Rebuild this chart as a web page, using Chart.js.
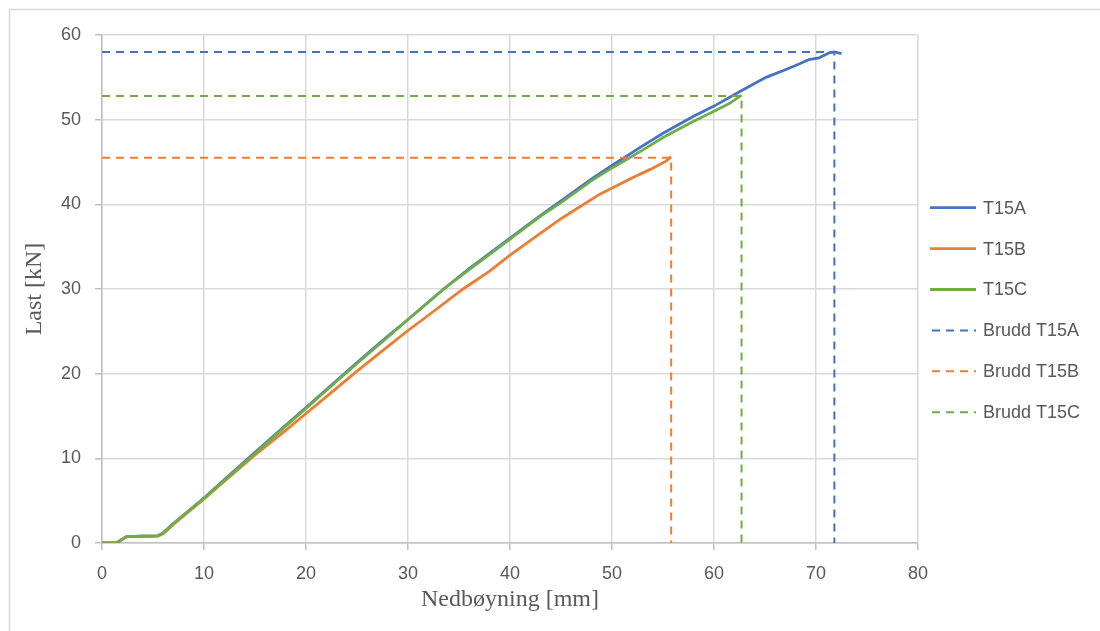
<!DOCTYPE html>
<html>
<head>
<meta charset="utf-8">
<script src="https://cdn.jsdelivr.net/npm/chart.js@4.4.1/dist/chart.umd.min.js"></script>
<style>
  html, body { margin: 0; padding: 0; background: #fff; }
</style>
</head>
<body>
<canvas id="grafica" width="1100" height="631"></canvas>
<script>
// 🔹 DATOS
const nedboyningA = [0, 1.4, 2.4, 4.0, 5.5, 6.0, 7.0, 8.0, 10, 12, 15, 18, 20, 23, 25, 28, 30, 33.5, 36, 40, 43, 45, 48, 50, 53, 55, 58, 60, 62.5, 65.1, 67, 68.4, 69.3, 70.3, 71.3, 71.8, 72.5];
const lastA = [0, 0, 0.75, 0.8, 0.85, 1.2, 2.3, 3.3, 5.3, 7.5, 10.7, 13.9, 16.0, 19.2, 21.3, 24.4, 26.4, 30.0, 32.4, 36.0, 38.7, 40.4, 43.0, 44.6, 46.9, 48.4, 50.4, 51.6, 53.3, 55.0, 55.9, 56.6, 57.1, 57.3, 57.9, 58.0, 57.8];

const nedboyningB = [0, 1.4, 2.4, 4.0, 5.5, 6.0, 7.0, 8.0, 10, 12, 15, 18, 20, 23, 25, 28, 30, 32, 35.4, 38, 40, 43, 45, 48.8, 52.1, 53.7, 55.3, 55.8];
const lastB = [0, 0, 0.75, 0.8, 0.85, 1.1, 2.2, 3.2, 5.2, 7.3, 10.4, 13.3, 15.3, 18.3, 20.3, 23.2, 25.1, 26.9, 30.0, 32.1, 34.0, 36.6, 38.3, 41.2, 43.2, 44.1, 45.1, 45.6];

const nedboyningC = [0, 1.4, 2.4, 4.0, 5.5, 6.0, 7.0, 8.0, 10, 12, 15, 18, 20, 23, 25, 28, 30, 33.5, 36, 40, 43, 45, 48, 50, 53, 55, 58, 60, 61.5, 62.7];
const lastC = [0, 0, 0.75, 0.8, 0.85, 1.2, 2.3, 3.3, 5.3, 7.4, 10.6, 13.8, 15.9, 19.1, 21.2, 24.3, 26.4, 30.0, 32.3, 35.9, 38.6, 40.2, 42.8, 44.3, 46.4, 47.9, 49.8, 51.0, 51.9, 52.9];

// punto de brudd: A, B, C
const bruddNedboyning = [71.8, 55.8, 62.7];
const bruddLast = [58.0, 45.5, 52.8];

const nombres = ['T15A', 'T15B', 'T15C'];
const colores = ['#4472C4', '#ED7D31', '#70AD47'];

const ejeX = { min: 0, max: 80, paso: 10 };
const ejeY = { min: 0, max: 60, paso: 10 };

function puntos(xs, ys){
  return xs.map((x, i) => ({ x: x, y: ys[i] }));
}

function lineaBrudd(i){
  return [
    { x: 0, y: bruddLast[i] },
    { x: bruddNedboyning[i], y: bruddLast[i] },
    { x: bruddNedboyning[i], y: 0 }
  ];
}

const curvas = [[nedboyningA, lastA], [nedboyningB, lastB], [nedboyningC, lastC]];

const datasets = [];
curvas.forEach((c, i) => {
  datasets.push({
    label: nombres[i],
    data: puntos(c[0], c[1]),
    borderColor: colores[i],
    borderWidth: 2.8,
    borderDash: [],
    pointRadius: 0,
    tension: 0
  });
});
nombres.forEach((n, i) => {
  datasets.push({
    label: 'Brudd ' + n,
    data: lineaBrudd(i),
    borderColor: colores[i],
    borderWidth: 2,
    borderDash: [8, 6],
    pointRadius: 0,
    tension: 0
  });
});
// como en Excel: la última serie queda encima
datasets.forEach((ds, i) => { ds.order = datasets.length - 1 - i; });

const gris = '#595959';
const fuenteTicks = { family: '"Liberation Sans", Arial, sans-serif', size: 18 };
const fuenteTitulo = { family: '"Liberation Serif", "Times New Roman", serif', size: 24 };

// 🔹 MARCO + FONDO
const marco = {
  id: 'marco',
  beforeDraw(chart){
    const c = chart.ctx;
    c.save();
    c.fillStyle = '#fff';
    c.fillRect(0, 0, chart.width, chart.height);
    c.strokeStyle = '#d9d9d9';
    c.lineWidth = 1.5;
    c.strokeRect(9.5, 9.5, 1300, 800);
    c.restore();
  }
};

// 🔹 LEYENDA (a la derecha, como en Excel)
const leyenda = {
  id: 'leyenda',
  afterDraw(chart){
    const c = chart.ctx;
    c.save();
    c.font = '18px "Liberation Sans", Arial, sans-serif';
    c.textBaseline = 'middle';
    c.fillStyle = gris;
    chart.data.datasets.forEach((ds, i) => {
      const y = 207.7 + i * 40.9;
      c.beginPath();
      c.strokeStyle = ds.borderColor;
      c.lineWidth = ds.borderWidth;
      c.setLineDash(ds.borderDash || []);
      const x0 = ds.borderDash.length ? 932 : 930;
      c.moveTo(x0, y);
      c.lineTo(976, y);
      c.stroke();
      c.setLineDash([]);
      c.fillText(ds.label, 983, y + 1);
    });
    c.restore();
  }
};

const ctx = document.getElementById('grafica').getContext('2d');

const grafica = new Chart(ctx, {
  type: 'line',
  data: { datasets: datasets },
  plugins: [marco, leyenda],
  options: {
    responsive: false,
    animation: false,
    layout: { padding: { left: 0, right: 182, top: 35, bottom: 0 } },
    plugins: {
      legend: { display: false },
      tooltip: { enabled: false }
    },
    scales: {
      x: {
        type: 'linear',
        min: ejeX.min,
        max: ejeX.max,
        afterFit: (s) => { s.height = 88; },
        ticks: { stepSize: ejeX.paso, color: gris, font: fuenteTicks, padding: 13, maxRotation: 0 },
        grid: { color: '#d9d9d9', lineWidth: 1.5, tickLength: 7, tickColor: '#bfbfbf' },
        border: { color: '#bfbfbf', width: 1.5 },
        title: {
          display: true,
          text: 'Nedbøyning [mm]',
          color: gris,
          font: fuenteTitulo,
          padding: { top: 0, bottom: 17 }
        }
      },
      y: {
        min: ejeY.min,
        max: ejeY.max,
        afterFit: (s) => { s.width = 102; },
        ticks: { stepSize: ejeY.paso, color: gris, font: fuenteTicks, padding: 14 },
        grid: { color: '#d9d9d9', lineWidth: 1.5, tickLength: 7, tickColor: '#bfbfbf' },
        border: { color: '#bfbfbf', width: 1.5 },
        title: {
          display: true,
          text: 'Last [kN]',
          color: gris,
          font: fuenteTitulo,
          padding: { top: 20, bottom: 0 }
        }
      }
    }
  }
});
</script>
</body>
</html>
